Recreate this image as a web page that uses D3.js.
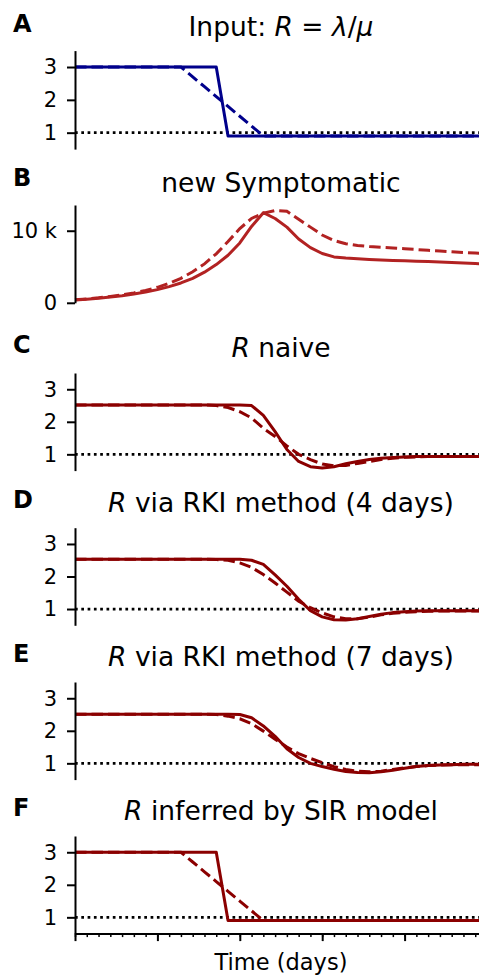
<!DOCTYPE html>
<html>
<head>
<meta charset="utf-8">
<script src="https://cdn.jsdelivr.net/npm/d3@7"></script>
<style>
  body { margin: 0; background: #fff; }
  svg { display: block; font-family: "DejaVu Sans", sans-serif; }
</style>
</head>
<body>
<svg id="chart" width="479" height="977"></svg>
<script>
// daily values, day 0 .. 35
const days = d3.range(0, 36);

const inputSolid = [3,3,3,3,3,3,3,3,3,3,3,3,3, 0.9,0.9,0.9,0.9,0.9,0.9,0.9,0.9,0.9,0.9,0.9,0.9,0.9,0.9,0.9,0.9,0.9,0.9,0.9,0.9,0.9,0.9,0.9];
const inputDashed = [3,3,3,3,3,3,3,3,3,3, 2.7,2.4,2.1,1.8,1.5,1.2, 0.9,0.9,0.9,0.9,0.9,0.9,0.9,0.9,0.9,0.9,0.9,0.9,0.9,0.9,0.9,0.9,0.9,0.9,0.9,0.9];

const symSolid = [375,480,620,790,980,1230,1500,1830,2250,2750,3400,4250,5300,6600,8300,10600,12500,11700,10500,8860,7650,6840,6370,6200,6100,6000,5930,5880,5830,5780,5720,5660,5590,5520,5450,5380];
const symDashed = [420,540,690,880,1100,1380,1720,2150,2700,3400,4300,5400,6800,8500,10300,11700,12450,12800,12700,11600,10500,9400,8650,8200,7950,7800,7700,7600,7500,7400,7280,7180,7080,6980,6900,6830];

const naiveSolid = [2.52,2.52,2.52,2.52,2.52,2.52,2.52,2.52,2.52,2.52,2.52,2.52,2.52,2.52,2.52, 2.5,2.2,1.7,1.15,0.78,0.62,0.58,0.62,0.71,0.78,0.84,0.88,0.9,0.92, 0.93,0.93,0.93,0.93,0.93,0.93,0.93];
const naiveDashed = [2.52,2.52,2.52,2.52,2.52,2.52,2.52,2.52,2.52,2.52,2.52,2.52, 2.5,2.44,2.31,2.12,1.8,1.55,1.26,1.0,0.84,0.7,0.65,0.66,0.72,0.78,0.84,0.88,0.91,0.92, 0.93,0.93,0.93,0.93,0.93,0.93];

const rki4Solid = [2.53,2.53,2.53,2.53,2.53,2.53,2.53,2.53,2.53,2.53,2.53,2.53,2.53,2.53,2.53, 2.5,2.37,2.05,1.7,1.3,0.95,0.76,0.67,0.66,0.7,0.77,0.84,0.89,0.92,0.94, 0.95,0.95,0.95,0.95,0.95,0.95];
const rki4Dashed = [2.53,2.53,2.53,2.53,2.53,2.53,2.53,2.53,2.53,2.53,2.53,2.53, 2.52,2.5,2.42,2.28,2.06,1.8,1.52,1.24,1.04,0.88,0.76,0.7,0.7,0.75,0.82,0.87,0.9,0.92,0.93, 0.94,0.94,0.94,0.94,0.94];

const rki7Solid = [2.51,2.51,2.51,2.51,2.51,2.51,2.51,2.51,2.51,2.51,2.51,2.51,2.51,2.51, 2.5,2.4,2.15,1.83,1.45,1.18,1.0,0.9,0.82,0.75,0.72,0.71,0.74,0.79,0.85,0.9,0.93,0.95,0.96, 0.97,0.97,0.97];
const rki7Dashed = [2.51,2.51,2.51,2.51,2.51,2.51,2.51,2.51,2.51,2.51,2.51,2.51, 2.5,2.45,2.37,2.22,1.99,1.74,1.5,1.3,1.15,1.02,0.9,0.81,0.76,0.74,0.76,0.81,0.86,0.9,0.93,0.95, 0.96,0.96,0.96,0.96];

const sirSolid = [3,3,3,3,3,3,3,3,3,3,3,3,3, 0.9,0.9,0.9,0.9,0.9,0.9,0.9,0.9,0.9,0.9,0.9,0.9,0.9,0.9,0.9,0.9,0.9,0.9,0.9,0.9,0.9,0.9,0.9];
const sirDashed = [3,3,3,3,3,3,3,3,3,3, 2.7,2.4,2.1,1.8,1.5,1.2, 0.9,0.9,0.9,0.9,0.9,0.9,0.9,0.9,0.9,0.9,0.9,0.9,0.9,0.9,0.9,0.9,0.9,0.9,0.9,0.9];

const rTicks = [1, 2, 3];
const symTicks = [0, 10000];
const symTickLabels = ["0", "10 k"];
const majorDays = [0, 7, 14, 21, 28, 35];

const svg = d3.select("#chart");
const x = d3.scaleLinear().domain([0, 35]).range([75, 487]);

const rDomain = [0.5, 3.5];
const panels = [
  { letter: "A", title: [["Input: "], ["R", 1], [" = "], ["λ", 1], ["/"], ["μ", 1]],
    top: 50.6, bottom: 149.1, titleY: 36, letterY: 32.3,
    domain: rDomain, ticks: rTicks, solid: inputSolid, dashed: inputDashed, color: "#00008b", ref: true },
  { letter: "B", title: [["new Symptomatic"]],
    top: 205, bottom: 302.8, titleY: 192.3, letterY: 186,
    domain: [0, 13570], ticks: symTicks, labels: symTickLabels, solid: symSolid, dashed: symDashed, color: "#b22222", ref: false },
  { letter: "C", title: [["R", 1], [" naive"]],
    top: 373, bottom: 470.6, titleY: 357.3, letterY: 353.3,
    domain: rDomain, ticks: rTicks, solid: naiveSolid, dashed: naiveDashed, color: "#8b0000", ref: true },
  { letter: "D", title: [["R", 1], [" via RKI method (4 days)"]],
    top: 527.7, bottom: 625.3, titleY: 511.6, letterY: 507.6,
    domain: rDomain, ticks: rTicks, solid: rki4Solid, dashed: rki4Dashed, color: "#8b0000", ref: true },
  { letter: "E", title: [["R", 1], [" via RKI method (7 days)"]],
    top: 682, bottom: 779.6, titleY: 666, letterY: 662,
    domain: rDomain, ticks: rTicks, solid: rki7Solid, dashed: rki7Dashed, color: "#8b0000", ref: true },
  { letter: "F", title: [["R", 1], [" inferred by SIR model"]],
    top: 836, bottom: 933.6, titleY: 820, letterY: 816,
    domain: rDomain, ticks: rTicks, solid: sirSolid, dashed: sirDashed, color: "#8b0000", ref: true }
];

panels.forEach((p, idx) => {
  const y = d3.scaleLinear().domain(p.domain).range([p.bottom, p.top]);
  const g = svg.append("g");

  // panel letter
  g.append("text")
    .attr("x", 13).attr("y", p.letterY)
    .attr("font-size", 24).attr("font-weight", "bold")
    .text(p.letter);

  // title with italic symbols
  const t = g.append("text")
    .attr("x", 281).attr("y", p.titleY)
    .attr("text-anchor", "middle")
    .attr("font-size", 26.5)
    .style("white-space", "pre");
  p.title.forEach(([s, it]) => {
    t.append("tspan").attr("font-style", it ? "italic" : "normal").text(s);
  });

  const line = d3.line().x((d, i) => x(days[i])).y(d => y(d));

  // reference at R = 1
  if (p.ref) {
    g.append("line")
      .attr("x1", x(0)).attr("x2", x(35))
      .attr("y1", y(1)).attr("y2", y(1))
      .attr("stroke", "#000").attr("stroke-width", 2.7)
      .attr("stroke-dasharray", "2.7,3.6");
  }

  g.append("path").datum(p.dashed)
    .attr("d", line).attr("fill", "none")
    .attr("stroke", p.color).attr("stroke-width", 3)
    .attr("stroke-dasharray", "11.5,5");

  g.append("path").datum(p.solid)
    .attr("d", line).attr("fill", "none")
    .attr("stroke", p.color).attr("stroke-width", 3)
    .attr("stroke-linejoin", "round");

  // left axis
  const ya = d3.axisLeft(y).tickValues(p.ticks)
    .tickSize(8).tickPadding(10).tickSizeOuter(0)
    .tickFormat(p.labels ? (d, i) => p.labels[i] : d3.format("d"));
  const ag = g.append("g").attr("transform", "translate(75,0)").call(ya);
  ag.select(".domain").attr("stroke-width", 2);
  ag.selectAll(".tick line").attr("stroke-width", 2);
  ag.selectAll(".tick text").attr("font-size", 21).attr("font-family", "DejaVu Sans").attr("fill", "#000");

  // time axis only on the last panel
  if (idx === panels.length - 1) {
    const minor = g.append("g").attr("transform", `translate(0,${p.bottom})`)
      .call(d3.axisBottom(x).tickValues(days).tickSize(3.5).tickSizeOuter(0).tickFormat(""));
    minor.select(".domain").remove();
    minor.selectAll(".tick line").attr("stroke-width", 1.5);

    const major = g.append("g").attr("transform", `translate(0,${p.bottom})`)
      .call(d3.axisBottom(x).tickValues(majorDays).tickSize(7.5).tickSizeOuter(0).tickFormat(""));
    major.select(".domain").attr("stroke-width", 2);
    major.selectAll(".tick line").attr("stroke-width", 2);

    g.append("text")
      .attr("x", 281).attr("y", 970)
      .attr("text-anchor", "middle")
      .attr("font-size", 22.5)
      .text("Time (days)");
  }
});
</script>
</body>
</html>
